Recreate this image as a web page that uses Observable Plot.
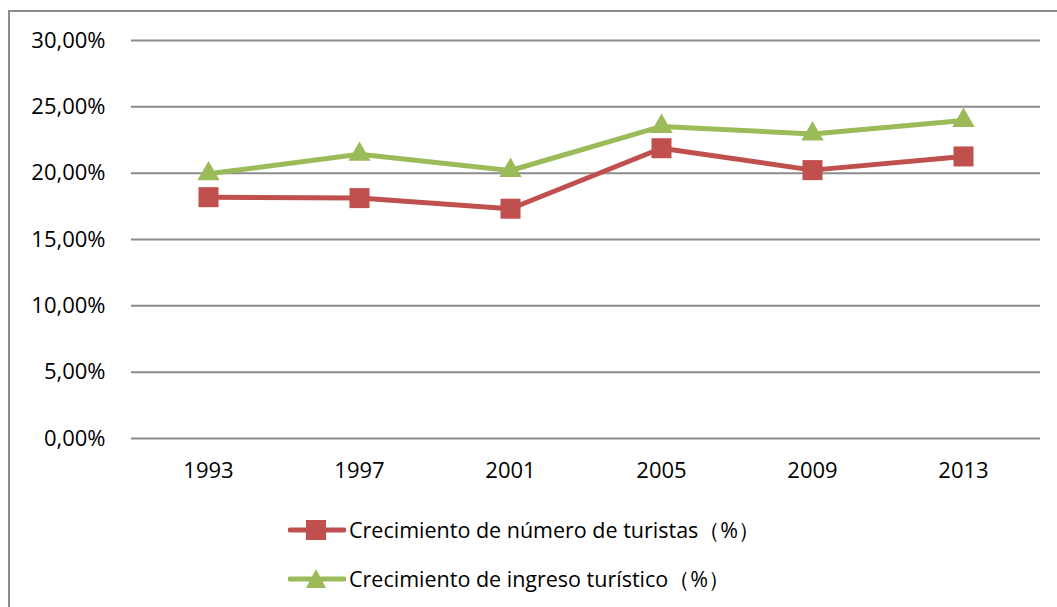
<!DOCTYPE html>
<html>
<head>
<meta charset="utf-8">
<script src="https://cdn.jsdelivr.net/npm/d3@7"></script>
<script src="https://cdn.jsdelivr.net/npm/@observablehq/plot@0.6"></script>
<style>
  html, body { margin: 0; padding: 0; background: #fff; }
  body { width: 1057px; height: 607px; overflow: hidden; position: relative; font-family: "Open Sans", sans-serif; }
  #frame { position: absolute; left: 8px; top: 10px; right: -5px; bottom: -5px; border-left: 2px solid #8c8c8c; border-top: 2px solid #8c8c8c; pointer-events: none; }
  #chart { position: absolute; left: 0; top: 0; }
  #legend { position: absolute; left: 288px; top: 505px; font-size: 21.5px; color: #000; }
  .row { display: flex; align-items: center; height: 49px; }
  .row svg { margin-right: 3px; }
</style>
</head>
<body>
<div id="frame"></div>
<div id="chart"></div>
<div id="legend"></div>
<script>
const years = ["1993", "1997", "2001", "2005", "2009", "2013"];
const turistas = [18.19, 18.12, 17.32, 21.88, 20.23, 21.26];
const ingreso = [19.95, 21.42, 20.2, 23.52, 22.95, 23.97];
const yTicks = [0, 5, 10, 15, 20, 25, 30];
const seriesNames = ["Crecimiento de número de turistas（%）", "Crecimiento de ingreso turístico（%）"];
const colors = ["#C0504D", "#9BBB59"];

const dataT = years.map((y, i) => ({year: y, value: turistas[i]}));
const dataI = years.map((y, i) => ({year: y, value: ingreso[i]}));
const fmt = d => d3.format(".2f")(d).replace(".", ",") + "%";

const plot = Plot.plot({
  width: 1057,
  height: 495,
  marginLeft: 131,
  marginRight: 17,
  marginTop: 40,
  marginBottom: 57,
  style: {fontFamily: "Open Sans, sans-serif", fontSize: "22px", color: "#000", background: "transparent"},
  x: {type: "point", domain: years, padding: 0.5, label: null},
  y: {domain: [0, 30], label: null},
  marks: [
    Plot.ruleY(yTicks, {stroke: "#8c8c8c", strokeWidth: 2}),
    Plot.axisY({ticks: yTicks, tickFormat: fmt, tickSize: 0, tickPadding: 26, fontSize: 22, label: null}),
    Plot.axisX({tickSize: 0, tickPadding: 24, fontSize: 22, label: null}),
    Plot.lineY(dataI, {x: "year", y: "value", stroke: colors[1], strokeWidth: 5}),
    Plot.dot(dataI, {x: "year", y: "value", symbol: "triangle", fill: colors[1], r: 8.3, stroke: "none"}),
    Plot.lineY(dataT, {x: "year", y: "value", stroke: colors[0], strokeWidth: 5}),
    Plot.dot(dataT, {x: "year", y: "value", symbol: "square", fill: colors[0], r: 11.3, stroke: "none"})
  ]
});
document.getElementById("chart").appendChild(plot);

const legend = document.getElementById("legend");
seriesNames.forEach((name, i) => {
  const row = document.createElement("div");
  row.className = "row";
  const marker = i === 0
    ? `<rect x="18" y="5" width="20" height="20" fill="${colors[0]}"/>`
    : `<path d="M28,5 L38,24 L18,24 Z" fill="${colors[1]}"/>`;
  row.innerHTML = `<svg width="58" height="30"><line x1="2" x2="56" y1="15" y2="15" stroke="${colors[i]}" stroke-width="5" stroke-linecap="round"/>${marker}</svg><span>${name}</span>`;
  legend.appendChild(row);
});
</script>
</body>
</html>
